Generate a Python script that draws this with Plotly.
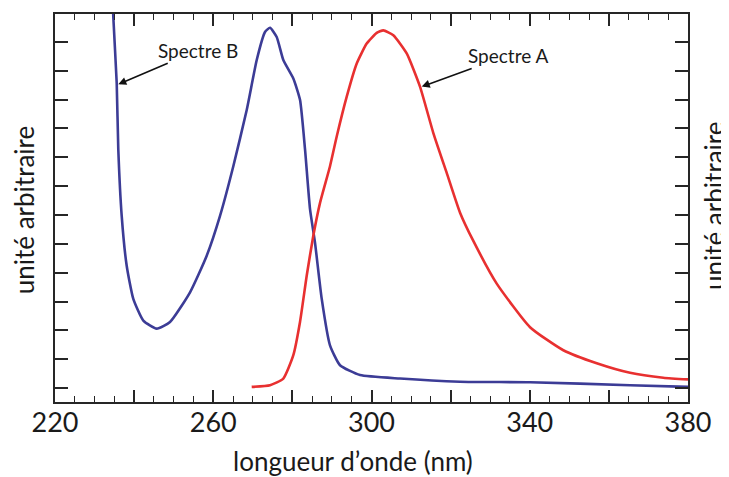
import plotly.graph_objects as go

# Spectre B (blue)
b_nm = [234.3, 234.74, 235.60, 236.00, 236.86, 238.12, 239.79, 242.32, 245.71, 249.07,
        254.13, 258.35, 261.71, 265.07, 268.46, 270.99, 273.08, 274.35, 276.04, 277.71,
        280.24, 281.93, 283.20, 284.46, 285.72, 287.42, 289.51, 292.04, 297.10, 307.21,
        322.38, 340.07, 365.35, 380.0]
b_val = [14.5, 12.86, 10.56, 8.27, 5.97, 4.24, 3.09, 2.34, 2.06, 2.29,
         3.32, 4.59, 5.97, 7.69, 9.64, 11.37, 12.34, 12.49, 12.17, 11.37,
         10.73, 9.99, 8.27, 6.20, 5.04, 3.09, 1.48, 0.79, 0.45, 0.33,
         0.22, 0.20, 0.10, 0.04]

# Spectre A (red)
a_nm = [269.72, 274.35, 277.71, 280.24, 281.93, 283.63, 285.29, 286.99, 289.51, 291.21,
        293.74, 296.27, 298.79, 301.32, 302.99, 305.52, 308.90, 312.26, 315.63, 319.01,
        322.38, 325.74, 331.65, 340.07, 348.49, 356.93, 365.35, 373.77, 380.0]
a_val = [0.04, 0.10, 0.33, 1.14, 2.29, 3.90, 5.28, 6.42, 7.69, 8.72,
         10.10, 11.25, 11.94, 12.31, 12.40, 12.23, 11.60, 10.45, 8.84, 7.46,
         6.08, 5.10, 3.62, 2.11, 1.31, 0.86, 0.53, 0.36, 0.30]

x_tickvals = [220, 240, 260, 280, 300, 320, 340, 360, 380]
x_ticktext = ["220", "", "260", "", "300", "", "340", "", "380"]

FONT = "Lato, 'Open Sans', sans-serif"
AXC = "#262626"
TXT = "#1a1a1a"

fig = go.Figure()
fig.add_trace(go.Scatter(x=b_nm, y=b_val, mode="lines",
                         line=dict(color="#3c3c96", width=2.6, shape="spline", smoothing=0.5),
                         name="Spectre B"))
fig.add_trace(go.Scatter(x=a_nm, y=a_val, mode="lines",
                         line=dict(color="#e83030", width=2.6, shape="spline", smoothing=0.5),
                         name="Spectre A"))

fig.update_layout(
    width=721, height=469,
    margin=dict(l=47, r=41, t=4, b=75),
    paper_bgcolor="white", plot_bgcolor="white",
    showlegend=False,
    font=dict(family=FONT, color=TXT),
    xaxis=dict(range=[220, 380], tickvals=x_tickvals, ticktext=x_ticktext,
               ticks="inside", ticklen=12, tickwidth=1.6, tickcolor=AXC,
               minor=dict(ticks="inside", ticklen=6, tickwidth=1.4, tickcolor=AXC, dtick=5, tick0=220),
               showline=True, linecolor=AXC, linewidth=2, mirror="ticks",
               showgrid=False, zeroline=False, ticklabelstandoff=-4,
               tickfont=dict(size=27, family=FONT, color=TXT)),
    yaxis=dict(range=[-0.483, 12.966], dtick=1, tick0=0, showticklabels=False,
               ticks="inside", ticklen=13, tickwidth=1.6, tickcolor=AXC,
               showline=True, linecolor=AXC, linewidth=2, mirror="ticks",
               showgrid=False, zeroline=False),
    annotations=[
        dict(text="longueur d’onde (nm)", xref="paper", yref="paper", x=0.4708, y=-0.151,
             xanchor="center", yanchor="middle", showarrow=False,
             font=dict(size=26, family=FONT, color=TXT)),
        dict(text="unité arbitraire", xref="paper", yref="paper", x=-0.0485, y=0.495,
             xanchor="center", yanchor="middle", textangle=-90, showarrow=False,
             font=dict(size=26, family=FONT, color=TXT)),
        dict(text="unité arbitraire", xref="paper", yref="paper", x=1.041, y=0.505,
             xanchor="center", yanchor="middle", textangle=-90, showarrow=False,
             font=dict(size=26, family=FONT, color=TXT)),
        dict(text="Spectre B", x=236.0, y=10.53, xref="x", yref="y", showarrow=True,
             ax=80, ay=-34, arrowhead=2, arrowsize=1, arrowwidth=1.6, arrowcolor="#111",
             font=dict(size=19, family=FONT, color=TXT)),
        dict(text="Spectre A", x=312.7, y=10.45, xref="x", yref="y", showarrow=True,
             ax=86, ay=-31, arrowhead=2, arrowsize=1, arrowwidth=1.6, arrowcolor="#111",
             font=dict(size=19, family=FONT, color=TXT)),
    ],
)

fig.write_html("out.html")
